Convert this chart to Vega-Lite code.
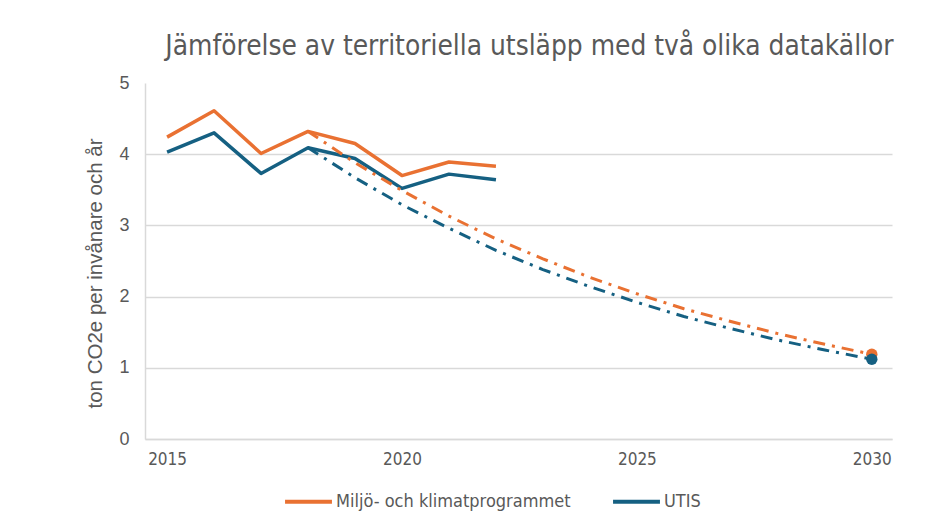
{
  "$schema": "https://vega.github.io/schema/vega-lite/v6.json",
  "width": 747,
  "height": 356,
  "autosize": "none",
  "padding": {"left": 145, "top": 83, "right": 46, "bottom": 89},
  "background": "white",
  "title": {
    "text": "Jämförelse av territoriella utsläpp med två olika datakällor",
    "font": "DejaVu Sans Condensed, Roboto, sans-serif",
    "fontSize": 27.8,
    "fontWeight": "normal",
    "color": "#595959",
    "anchor": "middle",
    "dx": 11,
    "offset": 13
  },
  "config": {
    "view": {"stroke": null}
  },
  "data": {
    "values": [
      {"year": 2015, "value": 4.24, "series": "Miljö- och klimatprogrammet", "kind": "actual"},
      {"year": 2016, "value": 4.61, "series": "Miljö- och klimatprogrammet", "kind": "actual"},
      {"year": 2017, "value": 4.01, "series": "Miljö- och klimatprogrammet", "kind": "actual"},
      {"year": 2018, "value": 4.32, "series": "Miljö- och klimatprogrammet", "kind": "actual"},
      {"year": 2019, "value": 4.15, "series": "Miljö- och klimatprogrammet", "kind": "actual"},
      {"year": 2020, "value": 3.70, "series": "Miljö- och klimatprogrammet", "kind": "actual"},
      {"year": 2021, "value": 3.89, "series": "Miljö- och klimatprogrammet", "kind": "actual"},
      {"year": 2022, "value": 3.83, "series": "Miljö- och klimatprogrammet", "kind": "actual"},
      {"year": 2015, "value": 4.03, "series": "UTIS", "kind": "actual"},
      {"year": 2016, "value": 4.30, "series": "UTIS", "kind": "actual"},
      {"year": 2017, "value": 3.73, "series": "UTIS", "kind": "actual"},
      {"year": 2018, "value": 4.09, "series": "UTIS", "kind": "actual"},
      {"year": 2019, "value": 3.94, "series": "UTIS", "kind": "actual"},
      {"year": 2020, "value": 3.52, "series": "UTIS", "kind": "actual"},
      {"year": 2021, "value": 3.72, "series": "UTIS", "kind": "actual"},
      {"year": 2022, "value": 3.64, "series": "UTIS", "kind": "actual"},
      {"year": 2018, "value": 4.32, "series": "Miljö- och klimatprogrammet", "kind": "trajectory"},
      {"year": 2019, "value": 3.88, "series": "Miljö- och klimatprogrammet", "kind": "trajectory"},
      {"year": 2020, "value": 3.49, "series": "Miljö- och klimatprogrammet", "kind": "trajectory"},
      {"year": 2021, "value": 3.13, "series": "Miljö- och klimatprogrammet", "kind": "trajectory"},
      {"year": 2022, "value": 2.81, "series": "Miljö- och klimatprogrammet", "kind": "trajectory"},
      {"year": 2023, "value": 2.53, "series": "Miljö- och klimatprogrammet", "kind": "trajectory"},
      {"year": 2024, "value": 2.27, "series": "Miljö- och klimatprogrammet", "kind": "trajectory"},
      {"year": 2025, "value": 2.04, "series": "Miljö- och klimatprogrammet", "kind": "trajectory"},
      {"year": 2026, "value": 1.83, "series": "Miljö- och klimatprogrammet", "kind": "trajectory"},
      {"year": 2027, "value": 1.65, "series": "Miljö- och klimatprogrammet", "kind": "trajectory"},
      {"year": 2028, "value": 1.48, "series": "Miljö- och klimatprogrammet", "kind": "trajectory"},
      {"year": 2029, "value": 1.33, "series": "Miljö- och klimatprogrammet", "kind": "trajectory"},
      {"year": 2030, "value": 1.19, "series": "Miljö- och klimatprogrammet", "kind": "trajectory"},
      {"year": 2018, "value": 4.09, "series": "UTIS", "kind": "trajectory"},
      {"year": 2019, "value": 3.67, "series": "UTIS", "kind": "trajectory"},
      {"year": 2020, "value": 3.29, "series": "UTIS", "kind": "trajectory"},
      {"year": 2021, "value": 2.96, "series": "UTIS", "kind": "trajectory"},
      {"year": 2022, "value": 2.65, "series": "UTIS", "kind": "trajectory"},
      {"year": 2023, "value": 2.38, "series": "UTIS", "kind": "trajectory"},
      {"year": 2024, "value": 2.14, "series": "UTIS", "kind": "trajectory"},
      {"year": 2025, "value": 1.92, "series": "UTIS", "kind": "trajectory"},
      {"year": 2026, "value": 1.72, "series": "UTIS", "kind": "trajectory"},
      {"year": 2027, "value": 1.55, "series": "UTIS", "kind": "trajectory"},
      {"year": 2028, "value": 1.39, "series": "UTIS", "kind": "trajectory"},
      {"year": 2029, "value": 1.25, "series": "UTIS", "kind": "trajectory"},
      {"year": 2030, "value": 1.12, "series": "UTIS", "kind": "trajectory"}
    ]
  },
  "encoding": {
    "x": {
      "field": "year",
      "type": "quantitative",
      "scale": {"domain": [2014.53, 2030.43], "nice": false, "zero": false},
      "axis": {
        "values": [2015, 2020, 2025, 2030],
        "format": "d",
        "title": null,
        "grid": false,
        "ticks": false,
        "domainColor": "#d9d9d9",
        "domainWidth": 1.5,
        "labelFont": "DejaVu Sans Condensed, Roboto, sans-serif",
        "labelFontSize": 17,
        "labelColor": "#595959",
        "labelPadding": 12
      }
    },
    "y": {
      "field": "value",
      "type": "quantitative",
      "scale": {"domain": [0, 5], "nice": false},
      "axis": {
        "values": [0, 1, 2, 3, 4, 5],
        "title": "ton CO2e per invånare och år",
        "titleFont": "Liberation Sans",
        "titleFontSize": 20.5,
        "titleFontWeight": "normal",
        "titleColor": "#595959",
        "titlePadding": 13,
        "titleY": 190,
        "ticks": false,
        "domainColor": "#d9d9d9",
        "domainWidth": 1.5,
        "gridColor": "#d9d9d9",
        "gridWidth": 1.5,
        "gridOpacity": {"condition": {"test": "datum.value == 5", "value": 0}, "value": 1},
        "labelFont": "Liberation Sans",
        "labelFontSize": 18,
        "labelColor": "#595959",
        "labelPadding": 16
      }
    }
  },
  "layer": [
    {
      "transform": [{"filter": "datum.kind == 'actual'"}],
      "mark": {"type": "line", "strokeWidth": 3.5, "strokeJoin": "round"},
      "encoding": {
        "color": {
          "field": "series",
          "type": "nominal",
          "scale": {"domain": ["Miljö- och klimatprogrammet", "UTIS"], "range": ["#E97132", "#156082"]},
          "legend": {
            "title": null,
            "orient": "none",
            "direction": "horizontal",
            "legendX": 138,
            "legendY": 393,
            "symbolType": "stroke",
            "symbolSize": 2200,
            "symbolStrokeWidth": 4,
            "symbolDash": [],
            "labelFont": "DejaVu Sans Condensed, Roboto, sans-serif",
            "labelFontSize": 18,
            "labelColor": "#595959",
            "labelOffset": 2,
            "labelLimit": 400,
            "columnPadding": 34
          }
        },
        "detail": {"field": "series"}
      }
    },
    {
      "transform": [{"filter": "datum.kind == 'trajectory'"}],
      "mark": {"type": "line", "strokeWidth": 3, "strokeDash": [12, 7, 3, 7]},
      "encoding": {
        "color": {"field": "series", "type": "nominal"},
        "detail": {"field": "series"}
      }
    },
    {
      "transform": [{"filter": "datum.kind == 'trajectory' && datum.year == 2030"}],
      "mark": {"type": "point", "filled": true, "opacity": 1, "size": 130, "shape": "circle"},
      "encoding": {
        "color": {"field": "series", "type": "nominal"}
      }
    }
  ]
}
